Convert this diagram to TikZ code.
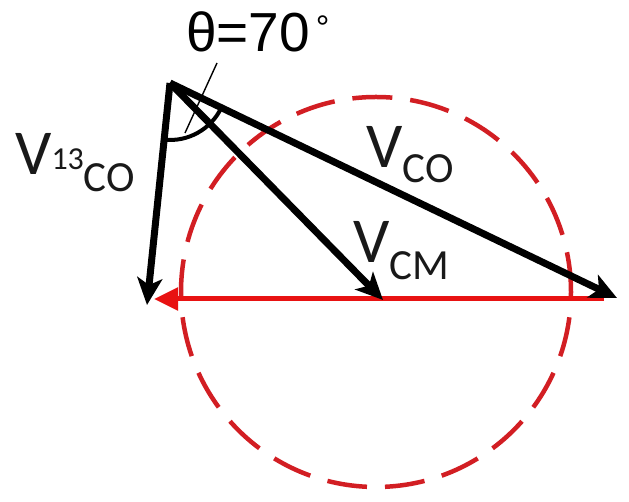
\documentclass[tikz,border=0pt]{standalone}
\usepackage{fontspec}
\setmainfont{Liberation Sans}
\newfontfamily\carlito{Carlito}
\usetikzlibrary{arrows.meta,calc}
\definecolor{linered}{RGB}{232,18,18}
\definecolor{circred}{RGB}{210,30,35}
\tikzset{
  vec/.style={line width=7pt, -{Stealth[length=27pt,width=25pt,inset=7pt]}},
  lbl/.style={inner sep=0pt, font=\carlito, text=black!90},
  redvec/.style={line width=5pt, linered, -{Triangle[length=24pt,width=22pt]}},
  dashcirc/.style={circred, line width=4.5pt, dash pattern=on 40pt off 18pt}
}
\begin{document}
\begin{tikzpicture}[x=1pt,y=1pt]
\useasboundingbox (0,0) rectangle (629,502);
% dashed circle
\node[circle, draw, dashcirc, minimum size=390pt, inner sep=0pt] (circ) at (376,210) {};
% points
\coordinate (O) at (170,419);
\coordinate (A) at (147,197);
\coordinate (M) at (383,202);
\coordinate (C) at (617,204);
\coordinate (R1) at (604,203);
\coordinate (R0) at (154,203);
% red vector
\draw[redvec] (R1) -- (R0);
% black vectors
\draw[vec] (O) -- (A);
\draw[vec] (O) -- (M);
\draw[vec] (O) -- (C);
% angle arc
\draw[line width=4pt] ($(O)+(-95.9:57)$) arc[start angle=-95.9, end angle=-25.7, radius=57];
% leader line
\coordinate (L1) at (217,439);
\coordinate (L2) at (185,369);
\draw[line width=1.4pt] (L1) -- (L2);
% angle text
\node[inner sep=0pt, anchor=base west] (theta) at (186,450) {\fontsize{55}{55}\selectfont θ=70\raisebox{12pt}{\fontsize{34}{34}\selectfont\,°}};
% labels
\node[lbl, anchor=base west] (v13) at (15,327) {\fontsize{64}{64}\selectfont V\raisebox{5pt}{\fontsize{32}{32}\selectfont 13}\raisebox{-17pt}{\fontsize{43}{43}\selectfont CO}};
\node[lbl, anchor=base west] (vco) at (366,334) {\fontsize{64}{64}\selectfont V\raisebox{-15pt}{\fontsize{43}{43}\selectfont CO}};
\node[lbl, anchor=base west] (vcm) at (353,239) {\fontsize{64}{64}\selectfont V\raisebox{-17pt}{\fontsize{43}{43}\selectfont CM}};
\end{tikzpicture}
\end{document}
